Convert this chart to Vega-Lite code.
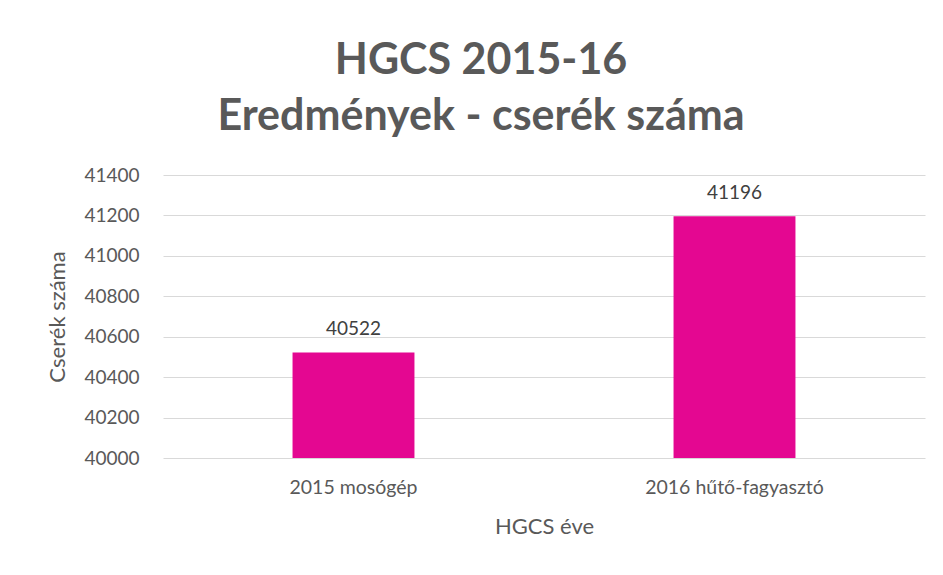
{
  "$schema": "https://vega.github.io/schema/vega-lite/v6.json",
  "autosize": "none",
  "width": 762,
  "height": 283,
  "padding": {"left": 163, "top": 175, "right": 18, "bottom": 117},
  "background": "white",
  "title": {
    "text": ["HGCS 2015-16", "Eredmények - cserék száma"],
    "font": "Lato",
    "fontSize": 43,
    "fontWeight": "bold",
    "color": "#595959",
    "anchor": "middle",
    "frame": "group",
    "dx": -63,
    "lineHeight": 56,
    "offset": 27
  },
  "config": {
    "view": {"stroke": null},
    "font": "Lato"
  },
  "data": {
    "values": [
      {"ev": "2015 mosógép", "csere": 40522},
      {"ev": "2016 hűtő-fagyasztó", "csere": 41196}
    ]
  },
  "encoding": {
    "x": {
      "field": "ev",
      "type": "nominal",
      "sort": null,
      "scale": {"paddingInner": 0.68, "paddingOuter": 0.34},
      "axis": {
        "title": "HGCS éve",
        "labelAngle": 0,
        "labelLimit": 0,
        "labelFont": "Lato",
        "labelFontSize": 19.5,
        "labelColor": "#595959",
        "labelPadding": 20,
        "titleFont": "Lato",
        "titleFontSize": 22,
        "titleFontWeight": "normal",
        "titleColor": "#595959",
        "titlePadding": 20,
        "domain": false,
        "ticks": false
      }
    },
    "y": {
      "field": "csere",
      "type": "quantitative",
      "scale": {"domain": [40000, 41400], "nice": false, "zero": false},
      "axis": {
        "title": "Cserék száma",
        "values": [40000, 40200, 40400, 40600, 40800, 41000, 41200, 41400],
        "format": "d",
        "labelFont": "Lato",
        "labelFontSize": 19,
        "labelColor": "#595959",
        "labelPadding": 24,
        "titleFont": "Lato",
        "titleFontSize": 22,
        "titleFontWeight": "normal",
        "titleColor": "#595959",
        "titlePadding": 14,
        "domain": false,
        "ticks": false,
        "grid": true,
        "gridColor": "#D9D9D9",
        "gridWidth": 1
      }
    }
  },
  "layer": [
    {
      "mark": {"type": "bar", "color": "#E40791", "clip": true}
    },
    {
      "mark": {"type": "text", "baseline": "bottom", "dy": -13, "fontSize": 19, "font": "Lato", "color": "#404040"},
      "encoding": {"text": {"field": "csere", "type": "quantitative", "format": "d"}}
    }
  ]
}
